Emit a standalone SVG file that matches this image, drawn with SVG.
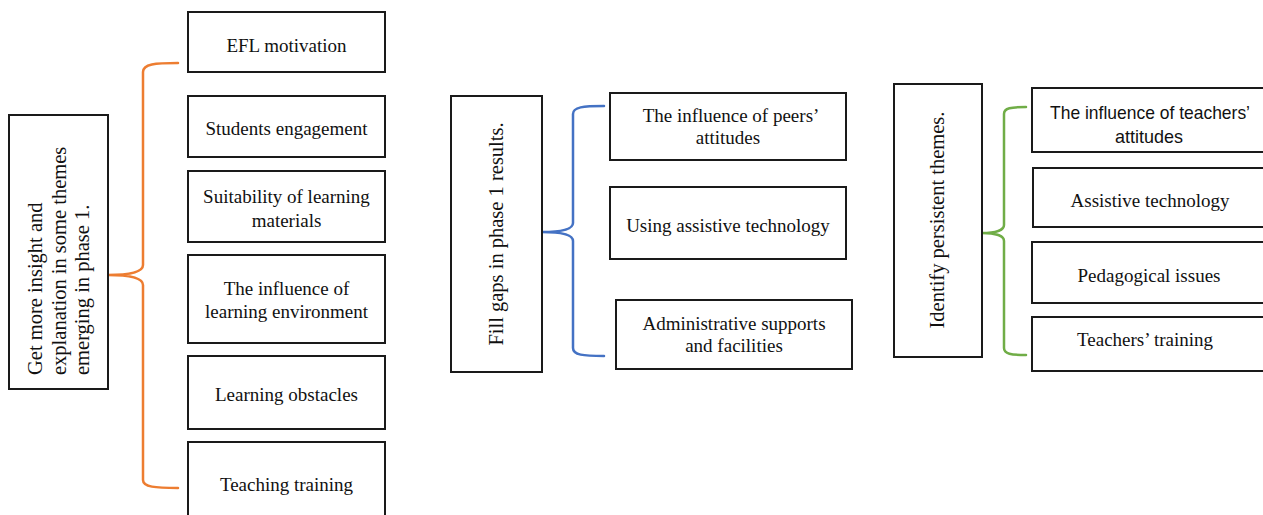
<svg xmlns="http://www.w3.org/2000/svg" width="1263" height="515" viewBox="0 0 1263 515">
  <style>
    .box { fill: #ffffff; stroke: #1a1a1a; stroke-width: 2; }
    .lbl { font-family: "Liberation Serif", "Times New Roman", serif; font-size: 19px; fill: #111; text-anchor: middle; }
    .vlbl { font-family: "Liberation Serif", "Times New Roman", serif; font-size: 20.5px; fill: #111; }
    .sans { font-family: "Liberation Sans", Arial, sans-serif; font-size: 19px; fill: #111; text-anchor: middle; }
    .brace { fill: none; stroke-width: 2.5; stroke-linecap: round; }
  </style>
  <rect width="1263" height="515" fill="#ffffff"/>

  <!-- brackets linking each aim to its themes -->
  <g id="connectors">
    <path class="brace" stroke="#ED7D31" d="M178,63 C155,63 143,64 143,72 L143,265 C143,272 130,275 108,275 C130,275 143,278 143,285 L143,480 C143,487 155,488 178,488"/>
    <path class="brace" stroke="#4472C4" d="M604,106 C583,106 573,107 573,114 L573,223 C573,229 562,232 542,232 C562,232 573,235 573,241 L573,348 C573,355 583,356 604,356"/>
    <path class="brace" stroke="#70AD47" d="M1026,107 C1011,107 1004,108 1004,114 L1004,225 C1004,230 996,233 982,233 C996,233 1004,236 1004,241 L1004,348 C1004,354 1011,355 1026,355"/>
  </g>

  <!-- column 1 -->
  <g id="aim-insight">
    <rect class="box" x="9" y="115" width="99" height="274"/>
    <g transform="rotate(-90)">
      <text class="vlbl" x="-375" y="42">Get more insight and</text>
      <text class="vlbl" x="-375" y="66">explanation in some themes</text>
      <text class="vlbl" x="-375" y="89">emerging in phase 1.</text>
    </g>
  </g>
  <g id="efl-motivation">
    <rect class="box" x="188" y="12" width="197" height="60"/>
    <text class="lbl" x="286.5" y="52">EFL motivation</text>
  </g>
  <g id="students-engagement">
    <rect class="box" x="188" y="96" width="197" height="61"/>
    <text class="lbl" x="286.5" y="135">Students engagement</text>
  </g>
  <g id="suitability">
    <rect class="box" x="188" y="171" width="197" height="71"/>
    <text class="lbl" x="286.5" y="203">Suitability of learning</text>
    <text class="lbl" x="286.5" y="227">materials</text>
  </g>
  <g id="learning-environment">
    <rect class="box" x="188" y="255" width="197" height="88"/>
    <text class="lbl" x="286.5" y="295">The influence of</text>
    <text class="lbl" x="286.5" y="318">learning environment</text>
  </g>
  <g id="learning-obstacles">
    <rect class="box" x="188" y="356" width="197" height="73"/>
    <text class="lbl" x="286.5" y="401">Learning obstacles</text>
  </g>
  <g id="teaching-training">
    <rect class="box" x="188" y="442" width="197" height="90"/>
    <text class="lbl" x="286.5" y="491">Teaching training</text>
  </g>

  <!-- column 2 -->
  <g id="aim-fill-gaps">
    <rect class="box" x="451" y="96" width="91" height="276"/>
    <text class="vlbl" transform="rotate(-90)" x="-234" y="503" text-anchor="middle">Fill gaps in phase 1 results.</text>
  </g>
  <g id="peers-attitudes">
    <rect class="box" x="610" y="93" width="236" height="67"/>
    <text class="lbl" x="731" y="122">The influence of peers’</text>
    <text class="lbl" x="728" y="144">attitudes</text>
  </g>
  <g id="assistive-technology-use">
    <rect class="box" x="610" y="187" width="236" height="72"/>
    <text class="lbl" x="728" y="232">Using assistive technology</text>
  </g>
  <g id="administrative-supports">
    <rect class="box" x="616" y="300" width="236" height="69"/>
    <text class="lbl" x="734" y="330">Administrative supports</text>
    <text class="lbl" x="734" y="352">and facilities</text>
  </g>

  <!-- column 3 -->
  <g id="aim-persistent">
    <rect class="box" x="894" y="84" width="88" height="273"/>
    <text class="vlbl" transform="rotate(-90)" x="-220" y="944" text-anchor="middle">Identify persistent themes.</text>
  </g>
  <g id="teachers-attitudes">
    <rect class="box" x="1032" y="88" width="240" height="64"/>
    <text class="sans" x="1150" y="119" textLength="200" lengthAdjust="spacingAndGlyphs">The influence of teachers’</text>
    <text class="sans" x="1149" y="143" textLength="68" lengthAdjust="spacingAndGlyphs">attitudes</text>
  </g>
  <g id="assistive-technology">
    <rect class="box" x="1033" y="168" width="240" height="59"/>
    <text class="lbl" x="1150" y="207">Assistive technology</text>
  </g>
  <g id="pedagogical-issues">
    <rect class="box" x="1032" y="242" width="240" height="61"/>
    <text class="lbl" x="1149" y="282">Pedagogical issues</text>
  </g>
  <g id="teachers-training">
    <rect class="box" x="1032" y="317" width="240" height="54"/>
    <text class="lbl" x="1145" y="346">Teachers’ training</text>
  </g>
</svg>
